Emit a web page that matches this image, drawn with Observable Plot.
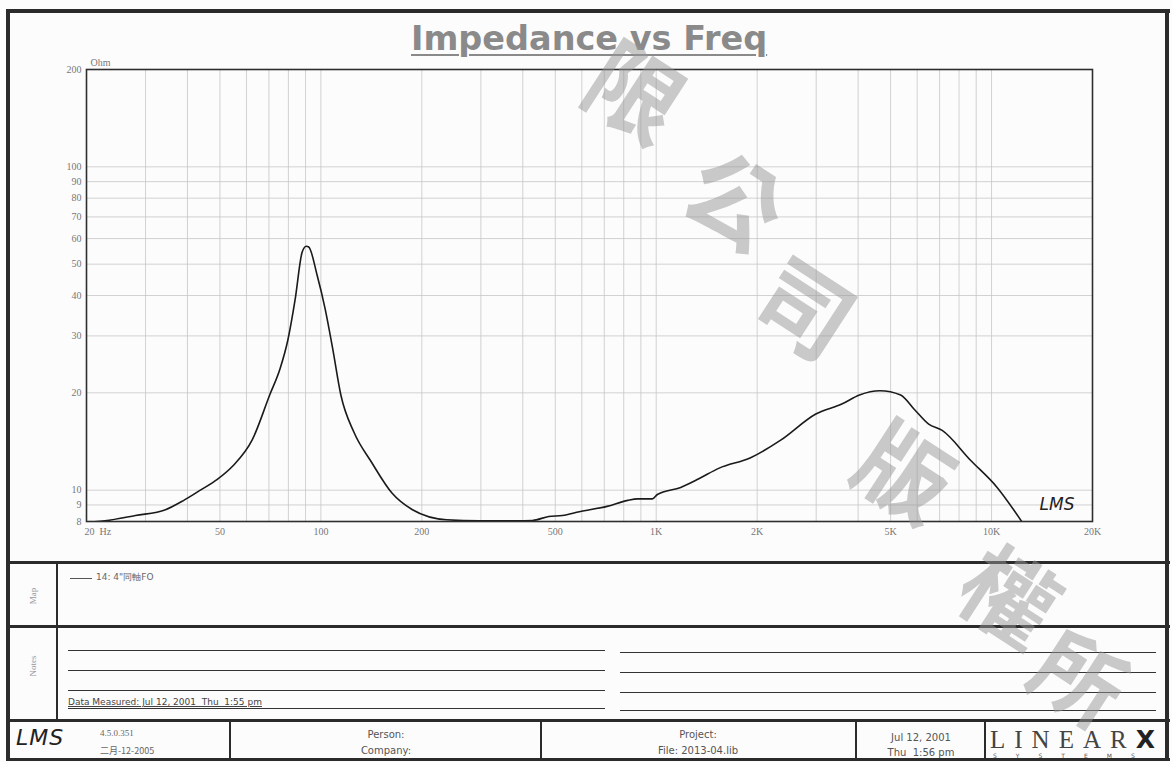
<!DOCTYPE html>
<html><head><meta charset="utf-8">
<script src="https://cdn.jsdelivr.net/npm/d3@7"></script>
<script src="https://cdn.jsdelivr.net/npm/@observablehq/plot@0.6"></script>
<style>
body{margin:0;background:#fff;}
#page{position:relative;width:1172px;height:762px;overflow:hidden;background:#fdfcfd;}
#chart{position:absolute;left:0;top:0;}
.b{position:absolute;background:#2b2b2b;}
.nl{position:absolute;height:1.3px;background:#333;}
.t{position:absolute;white-space:pre;color:#555;font-family:"DejaVu Sans",sans-serif;}
.c{transform:translateX(-50%);}
.rot{transform:translate(-50%,-50%) rotate(-90deg);font-family:"Liberation Serif",serif;font-size:9px;color:#999;}
#title{position:absolute;left:411px;top:19px;font-family:"DejaVu Sans",sans-serif;font-weight:bold;font-size:33.5px;color:#8a8a8a;text-decoration:underline;text-decoration-thickness:2px;text-underline-offset:4px;white-space:pre;}
.wm{position:absolute;font-family:"Noto Sans CJK TC",sans-serif;font-weight:700;font-size:94px;color:rgba(150,150,150,0.5);transform:translate(-50%,-50%) rotate(33deg);line-height:1;}
</style></head><body><div id="page">
<div id="chart"></div>
<div id="title">Impedance vs Freq</div>

<div class="b" style="left:6px;top:9px;width:4px;height:752px"></div>
<div class="b" style="left:6px;top:9px;width:1164px;height:4px"></div>
<div class="b" style="left:1165px;top:9px;width:4px;height:752px"></div>
<div class="b" style="left:6px;top:758px;width:1164px;height:3px"></div>
<div class="b" style="left:6px;top:561px;width:1164px;height:3px"></div>
<div class="b" style="left:6px;top:625px;width:1164px;height:3px"></div>
<div class="b" style="left:6px;top:719px;width:1164px;height:3px"></div>
<div class="b" style="left:56px;top:562px;width:2px;height:158px"></div>
<div class="b" style="left:229px;top:720px;width:2px;height:40px"></div>
<div class="b" style="left:540px;top:720px;width:2px;height:40px"></div>
<div class="b" style="left:855px;top:720px;width:2px;height:40px"></div>
<div class="b" style="left:984px;top:720px;width:2px;height:40px"></div>

<div class="t rot" style="left:33px;top:596px">Map</div>
<div class="t rot" style="left:33px;top:666px">Notes</div>

<div class="nl" style="left:70px;top:578px;width:22px;background:#555;height:1px"></div>
<div class="t" style="left:96px;top:571px;font-size:9px;color:#666">14: 4"同軸FO</div>

<div class="nl" style="left:68px;top:650px;width:537px"></div>
<div class="nl" style="left:68px;top:670px;width:537px"></div>
<div class="nl" style="left:68px;top:690px;width:537px"></div>
<div class="nl" style="left:68px;top:708px;width:537px"></div>
<div class="nl" style="left:620px;top:652px;width:536px"></div>
<div class="nl" style="left:620px;top:672px;width:536px"></div>
<div class="nl" style="left:620px;top:692px;width:536px"></div>
<div class="nl" style="left:620px;top:710px;width:536px"></div>
<div class="t" style="left:68px;top:697px;font-size:9px;color:#444;text-decoration:underline">Data Measured: Jul 12, 2001  Thu  1:55 pm</div>

<div class="t" style="left:16px;top:725px;font-size:22px;font-style:italic;color:#222;font-family:'DejaVu Sans',sans-serif;font-weight:200;letter-spacing:1px">LMS</div>
<div class="t" style="left:100px;top:728px;font-size:9px;color:#666;font-family:'Liberation Serif',serif">4.5.0.351</div>
<div class="t" style="left:100px;top:744px;font-size:9px;color:#666;font-family:'Noto Sans CJK SC','Liberation Serif',serif">二月-12-2005</div>
<div class="t c" style="left:386px;top:729px;font-size:10px">Person:</div>
<div class="t c" style="left:386px;top:745px;font-size:10px">Company:</div>
<div class="t c" style="left:698px;top:729px;font-size:10px">Project:</div>
<div class="t c" style="left:698px;top:745px;font-size:10px">File: 2013-04.lib</div>
<div class="t c" style="left:921px;top:732px;font-size:10px">Jul 12, 2001</div>
<div class="t c" style="left:921px;top:747px;font-size:10px">Thu  1:56 pm</div>
<div class="t" style="left:990px;top:725px;font-size:25px;color:#444;font-family:'Liberation Serif',serif;letter-spacing:9px">LINEAR<b style="color:#222;font-family:'DejaVu Sans',sans-serif">X</b></div>
<div class="t" style="left:993px;top:752px;font-size:6px;color:#555;letter-spacing:19px">SYSTEMS</div>

<div class="wm" style="left:638px;top:88px">限</div>
<div class="wm" style="left:738px;top:196px">公</div>
<div class="wm" style="left:808px;top:304px">司</div>
<div class="wm" style="left:908px;top:468px">版</div>
<div class="wm" style="left:1012px;top:592px">權</div>
<div class="wm" style="left:1082px;top:674px;font-size:90px">所</div>
</div>
<script>
const freqHz = [20, 22.7, 28, 34.4, 39, 43.7, 49.1, 54.7, 62.4, 70.5, 75.5, 79.8, 83.8, 87.9, 90.4, 92, 97.5, 103, 108.5, 114.7, 125.5, 141.6, 162.9, 187.6, 237, 298, 380, 428, 478, 525, 590, 713, 822, 880, 974, 1008, 1183, 1340, 1541, 1912, 2357, 2992, 3589, 4037, 4648, 5355, 5878, 6494, 7124, 8639, 10390, 12400];
const impedanceOhm = [7.95, 8.04, 8.35, 8.7, 9.3, 10.0, 10.8, 11.9, 14.3, 19.8, 23.7, 29.3, 38.9, 54.4, 56.8, 56.5, 46.1, 36.3, 27.3, 19.7, 15.1, 12.2, 9.8, 8.7, 8.1, 8.04, 8.04, 8.06, 8.29, 8.35, 8.58, 8.91, 9.3, 9.4, 9.4, 9.7, 10.2, 10.85, 11.7, 12.6, 14.3, 17.2, 18.5, 19.7, 20.3, 19.7, 17.8, 16.0, 15.3, 12.4, 10.2, 7.9];
const xTicks = [50, 100, 200, 500, 1000, 2000, 5000, 10000, 20000];
const xTickLabels = ["50", "100", "200", "500", "1K", "2K", "5K", "10K", "20K"];
const xFirstTick = [20];
const xFirstLabel = "20\u00a0\u00a0Hz";
const yTicks = [8, 9, 10, 20, 30, 40, 50, 60, 70, 80, 90, 100, 200];
const xGrid = [20,30,40,50,60,70,80,90,100,200,300,400,500,600,700,800,900,1000,2000,3000,4000,5000,6000,7000,8000,9000,10000,20000];
const yGrid = [8,9,10,20,30,40,50,60,70,80,90,100];

const data = freqHz.map((f, i) => ({f, z: impedanceOhm[i]}));
const labelOf = new Map(xTicks.map((t, i) => [t, xTickLabels[i]]));

const chart = Plot.plot({
  width: 1172, height: 550,
  marginLeft: 86, marginRight: 80, marginTop: 69, marginBottom: 29,
  x: {type: "log", domain: [20, 20000]},
  y: {type: "log", domain: [8, 200]},
  style: {background: "transparent", fontFamily: "'Liberation Serif', serif", fontSize: "10px", color: "#777"},
  marks: [
    Plot.ruleX(xGrid, {stroke: "#c6c6c6", strokeWidth: 0.8}),
    Plot.ruleY(yGrid, {stroke: "#c6c6c6", strokeWidth: 0.8}),
    Plot.axisX(xTicks, {ticks: 1000, tickSize: 0, tickPadding: 6, tickFormat: d => labelOf.get(d) ?? "", label: null, fill: "#777"}),
    Plot.axisX(xFirstTick, {ticks: 1000, tickSize: 0, tickPadding: 6, tickFormat: () => xFirstLabel, textAnchor: "start", dx: -2, label: null, fill: "#777"}),
    Plot.axisY(yTicks, {ticks: 1000, tickSize: 0, tickPadding: 5, tickFormat: d => String(d), label: null, fill: "#777"}),
    Plot.line(data, {x: "f", y: "z", stroke: "#1a1a1a", strokeWidth: 1.6, curve: "monotone-x", clip: true}),
    Plot.frame({stroke: "#2e2e2e", strokeWidth: 1.6}),
    Plot.text(["Ohm"], {frameAnchor: "top-left", dx: 4, dy: -11, textAnchor: "start", fill: "#777", fontSize: 10}),
    Plot.text(["LMS"], {frameAnchor: "bottom-right", dx: -18, dy: -12, textAnchor: "end", fill: "#222", fontSize: 17, fontStyle: "italic", fontFamily: "'DejaVu Sans', sans-serif", fontWeight: 300})
  ]
});
document.getElementById("chart").appendChild(chart);
</script>
</body></html>
